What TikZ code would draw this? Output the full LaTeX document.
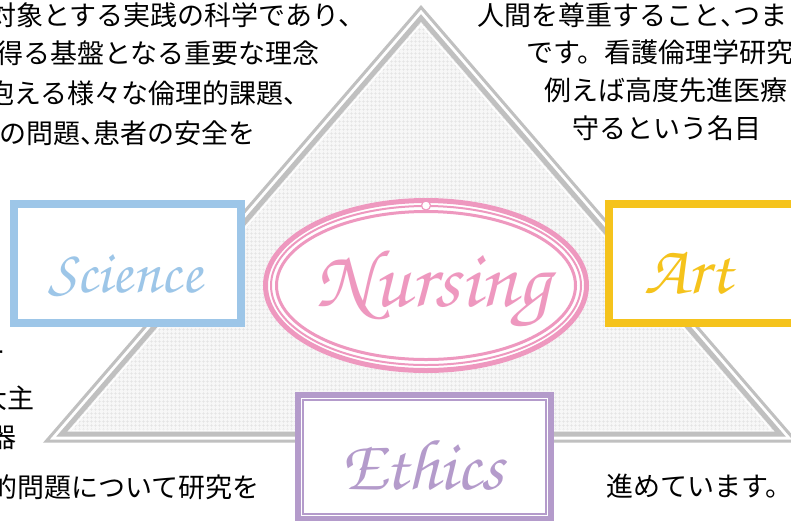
\documentclass[tikz,border=0pt]{standalone}
\usepackage{fontspec}
\newfontfamily\jpfont{Noto Sans CJK JP}
\newfontfamily\chorus{texgyrechorus-mediumitalic.otf}
\usetikzlibrary{calc,patterns.meta}
\definecolor{trigray}{HTML}{C0C0C0}
\definecolor{sciblue}{HTML}{9DC6E8}
\definecolor{artgold}{HTML}{F5C31C}
\definecolor{nurpink}{HTML}{EE98BF}
\definecolor{ethpurple}{HTML}{B49BCB}
\definecolor{gridfill}{HTML}{F7F7F7}
\definecolor{gridline}{HTML}{E4E4E4}
\newcommand\halfw[1]{\makebox[0.5em][l]{#1}}
\tikzset{
  jp/.style={font=\jpfont\fontsize{27pt}{30pt}\selectfont, inner sep=0pt, anchor=west, text=black, text height=23pt, text depth=3pt},
  frame/.style={draw, line width=6pt, fill=white, inner sep=0pt, shape=rectangle},
  innerframe/.style={line width=2pt},
  script/.style={font=\chorus, inner sep=0pt, anchor=base},
  trline/.style={draw=trigray, line join=miter},
}
\begin{document}
\begin{tikzpicture}[x=1pt,y=-1pt]
\useasboundingbox (0,0) rectangle (791,520);
\clip (0,0) rectangle (791,520);
\fill[white] (0,0) rectangle (791,520);

% triangle
\coordinate (I) at (421,269.7);
\coordinate (A) at (421,5);
\coordinate (B) at (43,442.7);
\coordinate (C) at (799,442.7);
\fill[gridfill] ($(I)!0.93642!(A)$) -- ($(I)!0.93642!(B)$) -- ($(I)!0.93642!(C)$) -- cycle;
\fill[pattern={Hatch[distance=4pt, angle=0, line width=0.7pt]}, pattern color=gridline]
  ($(I)!0.93642!(A)$) -- ($(I)!0.93642!(B)$) -- ($(I)!0.93642!(C)$) -- cycle;
\draw[white, line width=1.2pt, line join=miter] ($(I)!0.9272!(A)$) -- ($(I)!0.9272!(B)$) -- ($(I)!0.9272!(C)$) -- cycle;
\draw[trline, line width=5pt] ($(I)!0.95087!(A)$) -- ($(I)!0.95087!(B)$) -- ($(I)!0.95087!(C)$) -- cycle;
\draw[trline, line width=3pt] ($(I)!0.99133!(A)$) -- ($(I)!0.99133!(B)$) -- ($(I)!0.99133!(C)$) -- cycle;

% Nursing ellipse
\coordinate (E) at (426,285.5);
\fill[white] (E) ellipse [x radius=163, y radius=87.5];
\draw[nurpink, line width=5pt] (E) ellipse [x radius=160.5, y radius=85];
\draw[nurpink, line width=2pt] (E) ellipse [x radius=155, y radius=79.5];
\draw[nurpink, line width=3pt] (E) ellipse [x radius=149.5, y radius=74];
\node[circle, draw=nurpink, fill=white, line width=1.2pt, minimum size=9pt, inner sep=0pt] (orn) at (426,205.5) {};
\node[script, text=nurpink, font=\chorus\fontsize{82pt}{82pt}\selectfont] (nurtext) at (433,306) {Nursing};

% Science box
\node[frame, draw=sciblue, minimum width=229pt, minimum height=121pt] (sci) at (127.5,263.5) {};
\draw[sciblue, innerframe] ([shift={(7.3,7.3)}]sci.north west) rectangle ([shift={(-7.3,-7.3)}]sci.south east);
\node[script, text=sciblue, font=\chorus\fontsize{61pt}{61pt}\selectfont] (scitext) at (125,292) {Science};

% Art box
\node[frame, draw=artgold, minimum width=229pt, minimum height=121pt] (art) at (722.5,263.5) {};
\draw[artgold, innerframe] ([shift={(7.3,7.3)}]art.north west) rectangle ([shift={(-7.3,-7.3)}]art.south east);
\node[script, text=artgold, font=\chorus\fontsize{70pt}{70pt}\selectfont] (arttext) at (688,293) {Art};

% Ethics box
\node[frame, draw=ethpurple, minimum width=253pt, minimum height=124pt] (eth) at (424.5,457) {};
\draw[ethpurple, innerframe] ([shift={(8,8)}]eth.north west) rectangle ([shift={(-8,-8)}]eth.south east);
\node[script, text=ethpurple, font=\chorus\fontsize{72pt}{72pt}\selectfont] (ethtext) at (422,489) {Ethics};

% Japanese text
\node[jp] (l1) at (-11,15) {対象とする実践の科学であり、};
\node[jp] (l2) at (-4,53) {得る基盤となる重要な理念};
\node[jp] (l3) at (-13,93) {抱える様々な倫理的課題、};
\node[jp] (l4) at (-1,133) {の問題\halfw{、}患者の安全を};
\node[jp] (l5) at (-22,352) {ー};
\node[jp] (l6) at (-20,398) {大主};
\node[jp] (l7) at (-11,437) {器};
\node[jp] (l8) at (-10,487) {的問題について研究を};
\node[jp] (r1) at (477,15) {人間を尊重すること\halfw{、}つま};
\node[jp] (r2) at (526,52) {です。看護倫理学研究};
\node[jp] (r3) at (544,90) {例えば高度先進医療};
\node[jp] (r4) at (572,128) {守るという名目};
\node[jp] (r5) at (606,486) {進めています。};
\end{tikzpicture}
\end{document}
